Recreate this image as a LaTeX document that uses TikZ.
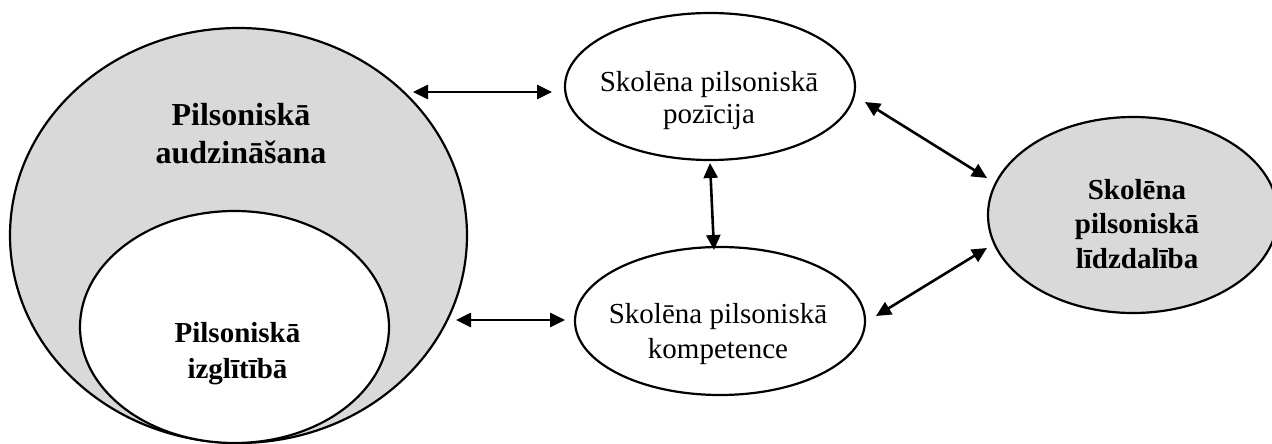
\documentclass[tikz,border=0pt]{standalone}
\usepackage{fontspec}
\setmainfont{Liberation Serif}
\usetikzlibrary{shapes.geometric,arrows.meta}
\definecolor{lgray}{RGB}{217,217,217}
\begin{document}
\begin{tikzpicture}[x=1pt,y=-1pt,
  oval/.style={ellipse, draw=black, line width=2.2pt, inner sep=0pt, outer sep=0pt},
  txt/.style={font=\fontsize{29}{35}\selectfont, align=center, inner sep=0pt, anchor=base},
  btxt/.style={font=\fontsize{29}{35}\selectfont\bfseries, align=center, inner sep=0pt, anchor=base},
  link/.style={{Triangle[length=15pt,width=14pt]}-{Triangle[length=15pt,width=14pt]}, line width=2.6pt}
]
\useasboundingbox (0,0) rectangle (1272,444);
% ellipses
\node[oval, fill=lgray, minimum width=457pt, minimum height=415pt] (big) at (238.5,235.5) {};
\node[oval, fill=white, minimum width=309pt, minimum height=232pt] (inner) at (234.5,327) {};
\node[oval, fill=white, minimum width=290pt, minimum height=147pt] (pos) at (710,86.5) {};
\node[oval, fill=white, minimum width=290pt, minimum height=148pt] (comp) at (720,321) {};
\node[oval, fill=lgray, minimum width=290pt, minimum height=196pt] (part) at (1133,215) {};
% texts (anchored at the baseline of the last line)
\node[btxt, font=\fontsize{32}{38}\selectfont\bfseries] (tbig) at (241,163) {Pilsoniskā\\audzināšana};
\node[btxt, font=\fontsize{29}{36}\selectfont\bfseries] (tinner) at (237.5,378) {Pilsoniskā\\izglītībā};
\node[txt, font=\fontsize{29}{32}\selectfont] (tpos) at (709,123) {Skolēna pilsoniskā\\pozīcija};
\node[txt] (tcomp) at (718,358) {Skolēna pilsoniskā\\kompetence};
\node[btxt, font=\fontsize{29}{34.5}\selectfont\bfseries] (tpart) at (1137,268) {Skolēna\\pilsoniskā\\līdzdalība};
% arrow end points
\coordinate (a1l) at (413,92);
\coordinate (a1r) at (552,92);
\coordinate (a2l) at (456,320);
\coordinate (a2r) at (565,320);
\coordinate (a3t) at (710,163);
\coordinate (a3b) at (714,250);
\coordinate (a4a) at (865,102);
\coordinate (a4b) at (987,178);
\coordinate (a5a) at (876,316);
\coordinate (a5b) at (987,248);
% connectors
\draw[link] (a1l) -- (a1r);
\draw[link] (a2l) -- (a2r);
\draw[link] (a3t) -- (a3b);
\draw[link] (a4a) -- (a4b);
\draw[link] (a5a) -- (a5b);
\end{tikzpicture}
\end{document}
